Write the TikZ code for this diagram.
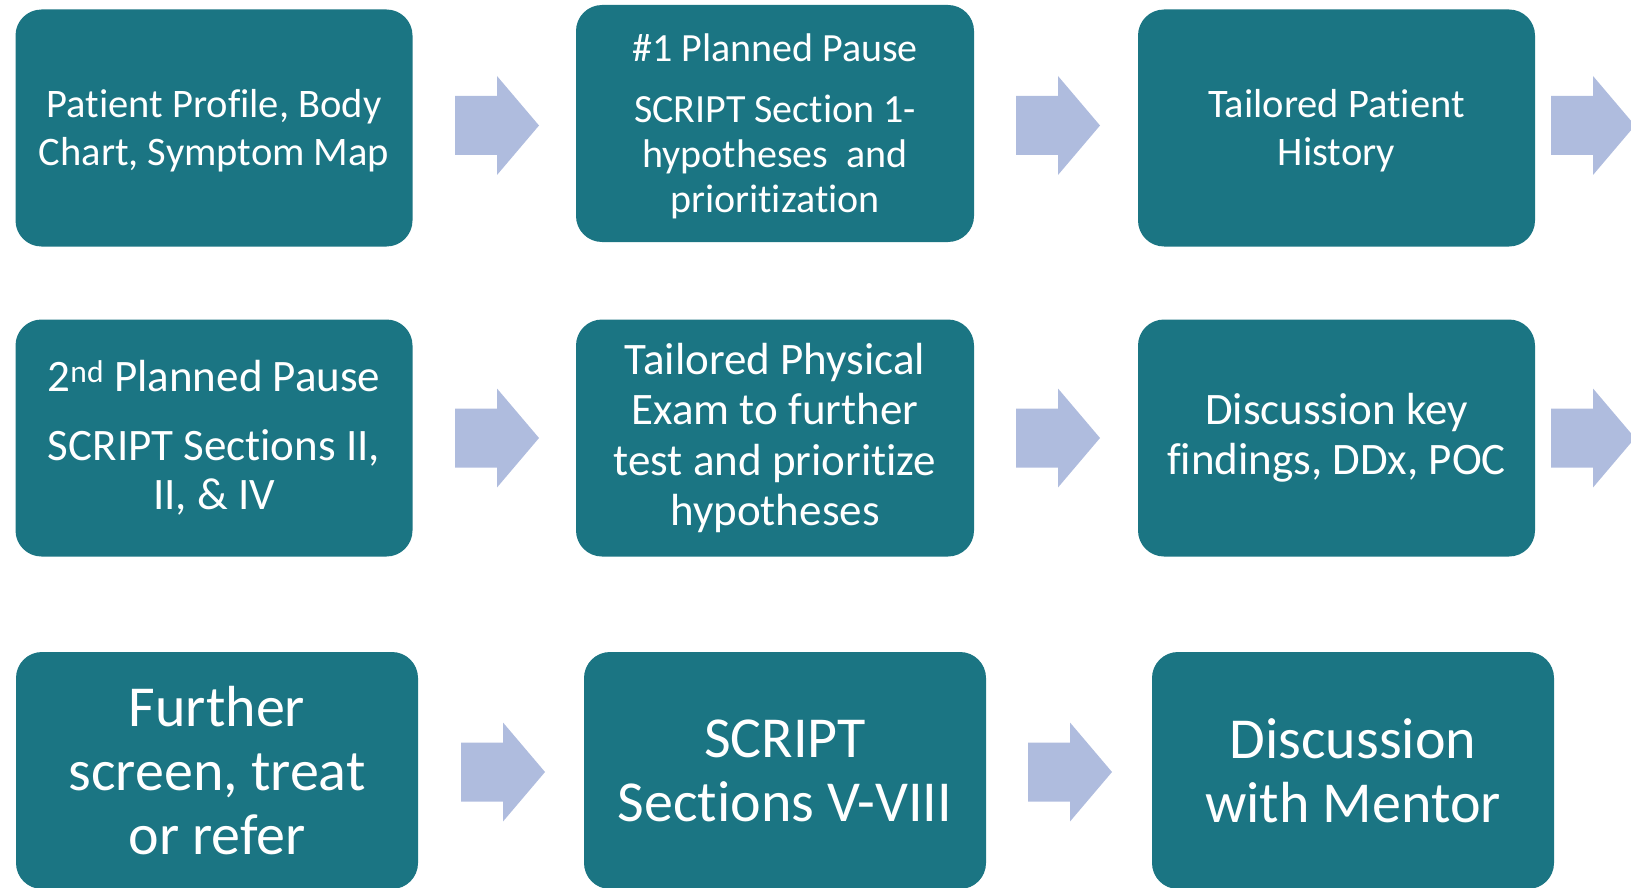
\documentclass[tikz,border=0pt]{standalone}
\usepackage{fontspec}
\setmainfont{Carlito}[Ligatures=NoCommon]
\definecolor{tealbox}{RGB}{27,117,131}
\definecolor{arrowfill}{RGB}{175,188,222}
\tikzset{
  box/.style={fill=tealbox, rounded corners=26pt, text=white, align=center,
    inner sep=0pt, minimum height=237pt},
  boxtext/.style={text=white, align=center, inner sep=0pt},
  rowone/.style={font=\fontsize{40.5}{48}\selectfont},
  rowtwo/.style={font=\fontsize{45}{49.5}\selectfont},
  rowthree/.style={font=\fontsize{58}{64}\selectfont},
  barrow/.pic={\fill[arrowfill] (-42,-29.5) -- (0,-29.5) -- (0,-49.5) -- (42,0)
    -- (0,49.5) -- (0,29.5) -- (-42,29.5) -- cycle;}
}
\begin{document}
\begin{tikzpicture}[x=1pt,y=-1pt]
\useasboundingbox (0,0) rectangle (1631,888);
\clip (0,0) rectangle (1631,888);
% row 1
\node[box,minimum width=397pt] (a) at (214,128) {};
\node[boxtext,rowone] (at) at ([yshift=-3pt]a.center) {Patient Profile, Body\\Chart, Symptom Map};
\node[box,minimum width=398pt] (b) at (775,123.5) {};
\node[boxtext,font=\fontsize{40}{45}\selectfont] (bt) at ([yshift=-3pt]b.center) {\#1 Planned Pause\\[16pt]SCRIPT Section 1-\\hypotheses\ \ and\\prioritization};
\node[box,minimum width=397pt] (c) at (1336.5,128) {};
\node[boxtext,rowone] (ct) at ([yshift=-3pt]c.center) {Tailored Patient\\History};
\pic at (497,125.5) {barrow};
\pic at (1058,125.5) {barrow};
\pic at (1593,125.5) {barrow};
% row 2
\node[box,rowtwo,minimum width=397pt] (d) at (214,438) {2\textsuperscript{nd} Planned Pause\\[19pt]SCRIPT Sections II,\\II, \& IV};
\node[box,rowtwo,minimum width=398pt,font=\fontsize{45}{50.5}\selectfont] (e) at (775,438) {Tailored Physical\\Exam to further\\test and prioritize\\hypotheses};
\node[box,rowtwo,minimum width=397pt,font=\fontsize{45}{50}\selectfont] (f) at (1336.5,438) {Discussion key\\findings, DDx, POC};
\pic at (497,438) {barrow};
\pic at (1058,438) {barrow};
\pic at (1593,438) {barrow};
% row 3
\node[box,rowthree,minimum width=402pt] (g) at (217,770.5) {Further\\screen, treat\\or refer};
\node[box,rowthree,minimum width=402pt] (h) at (785,770.5) {SCRIPT\\Sections V-VIII};
\node[box,rowthree,minimum width=402pt] (i) at (1353,770.5) {Discussion\\with Mentor};
\pic at (503,772) {barrow};
\pic at (1070,772) {barrow};
\end{tikzpicture}
\end{document}
